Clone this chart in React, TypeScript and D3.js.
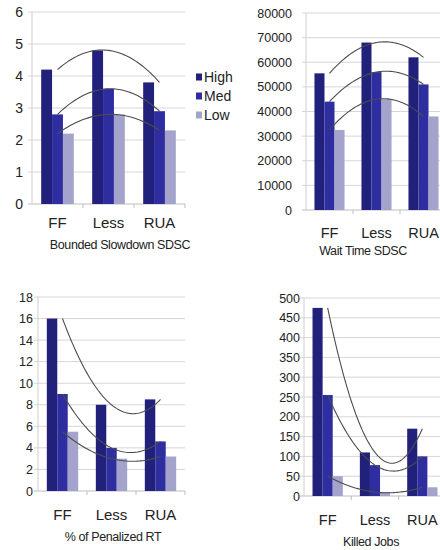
import React from "react";
import * as d3 from "d3";

const categories = ["FF", "Less", "RUA"];
const seriesNames = ["High", "Med", "Low"];
const colors = ["#21217c", "#2e2ea0", "#a3a3cb"];

const slowdownHigh = [4.2, 4.8, 3.8];
const slowdownMed = [2.8, 3.6, 2.9];
const slowdownLow = [2.2, 2.8, 2.3];

const waitHigh = [55500, 68000, 62000];
const waitMed = [44000, 56000, 51000];
const waitLow = [32500, 45000, 38000];

const penalizedHigh = [16, 8, 8.5];
const penalizedMed = [9, 4, 4.6];
const penalizedLow = [5.5, 3, 3.2];

const killedHigh = [475, 110, 170];
const killedMed = [255, 78, 100];
const killedLow = [50, 10, 22];

const slowdownTicks = [0, 1, 2, 3, 4, 5, 6];
const waitTicks = [0, 10000, 20000, 30000, 40000, 50000, 60000, 70000, 80000];
const penalizedTicks = [0, 2, 4, 6, 8, 10, 12, 14, 16, 18];
const killedTicks = [0, 50, 100, 150, 200, 250, 300, 350, 400, 450, 500];

const FONT = "'Liberation Sans', Arial, sans-serif";

type ChartProps = {
  x0: number; x1: number; yTop: number; yBottom: number;
  ticks: number[]; data: number[][]; title: string;
  tickFont: number; catY: number; catFont: number; titleY: number; titleX: number; titleFont: number;
  labelGap: number;
};

function quad(vals: number[]) {
  // Lagrange through x=1,2,3 (Excel 2nd order polynomial trendline)
  const [a, b, c] = vals;
  return (x: number) =>
    (a * (x - 2) * (x - 3)) / 2 - b * (x - 1) * (x - 3) + (c * (x - 1) * (x - 2)) / 2;
}

function Chart(p: ChartProps) {
  const max = p.ticks[p.ticks.length - 1];
  const y = d3.scaleLinear().domain([0, max]).range([p.yBottom, p.yTop]);
  const xb = d3.scaleBand<string>().domain(categories).range([p.x0, p.x1]).padding(0);
  const bw = xb.bandwidth();
  const xs = d3.scaleBand<string>().domain(seriesNames).range([bw * 0.18, bw * 0.82]).padding(0);
  const centerX = d3.scaleLinear().domain([1, 3]).range([
    (xb(categories[0]) as number) + bw / 2,
    (xb(categories[2]) as number) + bw / 2,
  ]);
  const line = d3.line<[number, number]>().x((d) => d[0]).y((d) => d[1]).curve(d3.curveLinear);
  const samples = d3.range(0, 61).map((i) => 1 + (i * 2) / 60);
  return (
    <g>
      {p.ticks.map((t) => (
        <g key={t}>
          <line x1={p.x0 - 4} x2={p.x1} y1={y(t)} y2={y(t)} stroke={t === 0 ? "#bdbdbd" : "#d6d6d6"} strokeWidth={1} />
          <text x={p.x0 - p.labelGap} y={y(t)} dy="0.36em" textAnchor="end" fontSize={p.tickFont} fill="#222" fontFamily={FONT}>
            {t}
          </text>
        </g>
      ))}
      <line x1={p.x0} x2={p.x0} y1={p.yTop} y2={p.yBottom} stroke="#cfcfcf" />
      {categories.map((c, i) => (
        <line key={"t" + i} x1={(xb(c) as number) + bw} x2={(xb(c) as number) + bw} y1={p.yBottom} y2={p.yBottom + 4} stroke="#bdbdbd" />
      ))}
      {categories.map((c, ci) =>
        seriesNames.map((s, si) => (
          <rect
            key={c + s}
            x={(xb(c) as number) + (xs(s) as number)}
            y={y(p.data[si][ci])}
            width={xs.bandwidth()}
            height={p.yBottom - y(p.data[si][ci])}
            fill={colors[si]}
          />
        ))
      )}
      {p.data.map((vals, si) => {
        const f = quad(vals);
        const pts = samples.map((x) => [centerX(x), y(f(x))] as [number, number]);
        return <path key={"tr" + si} d={line(pts) || ""} fill="none" stroke="#4d4d4d" strokeWidth={1.1} />;
      })}
      {categories.map((c) => (
        <text key={"c" + c} x={(xb(c) as number) + bw / 2} y={p.catY} textAnchor="middle" fontSize={p.catFont} fill="#222" fontFamily={FONT}>
          {c}
        </text>
      ))}
      <text x={p.titleX} y={p.titleY} textAnchor="middle" fontSize={p.titleFont} fill="#222" fontFamily={FONT} letterSpacing={-0.4}>
        {p.title}
      </text>
    </g>
  );
}

export default function App() {
  const legendY = [77, 96, 115];
  return (
    <svg width={440} height={550} style={{ position: "fixed", left: 0, top: 0, background: "#fff" }}>
      <rect width={440} height={550} fill="#fff" />
      <Chart x0={32} x1={185} yTop={12} yBottom={204} ticks={slowdownTicks}
        data={[slowdownHigh, slowdownMed, slowdownLow]} title="Bounded Slowdown SDSC"
        tickFont={14} catY={228} catFont={15} titleY={249} titleX={120} titleFont={12.5} labelGap={9} />
      <Chart x0={306} x1={447} yTop={13} yBottom={210} ticks={waitTicks}
        data={[waitHigh, waitMed, waitLow]} title="Wait Time SDSC"
        tickFont={12.5} catY={238} catFont={14.5} titleY={255} titleX={363} titleFont={12.5} labelGap={14} />
      <Chart x0={38} x1={185} yTop={297} yBottom={491} ticks={penalizedTicks}
        data={[penalizedHigh, penalizedMed, penalizedLow]} title="% of Penalized RT"
        tickFont={12.5} catY={520} catFont={15} titleY={541} titleX={113} titleFont={12.5} labelGap={5} />
      <Chart x0={304} x1={446} yTop={298} yBottom={496} ticks={killedTicks}
        data={[killedHigh, killedMed, killedLow]} title="Killed Jobs"
        tickFont={12.5} catY={525} catFont={14.5} titleY={546} titleX={371} titleFont={12.5} labelGap={4} />
      {seriesNames.map((s, i) => (
        <g key={s}>
          <rect x={196} y={legendY[i] - 3.5} width={6} height={7} fill={colors[i]} />
          <text x={204} y={legendY[i]} dy="0.36em" fontSize={14} fill="#222" fontFamily={FONT}>{s}</text>
        </g>
      ))}
    </svg>
  );
}
